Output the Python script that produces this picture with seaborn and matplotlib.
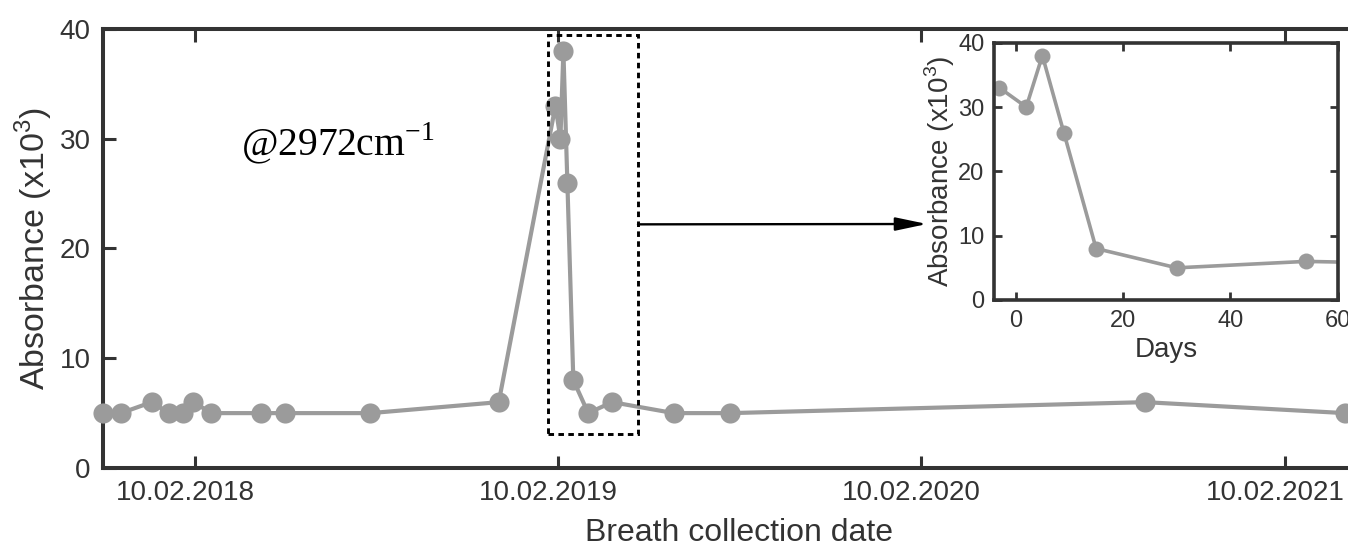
import pandas as pd
import seaborn as sns
import matplotlib.pyplot as plt
import matplotlib.dates as mdates
from matplotlib.patches import Rectangle
from matplotlib.transforms import ScaledTranslation

sns.set_style("ticks")
plt.rcParams['font.family'] = ['Liberation Sans', 'DejaVu Sans']

# breath samples
dates = ["2017-11-09", "2017-11-27", "2017-12-28", "2018-01-14", "2018-01-28",
         "2018-02-08", "2018-02-26", "2018-04-17", "2018-05-11", "2018-08-05",
         "2018-12-12", "2019-02-07", "2019-02-12", "2019-02-15", "2019-02-19",
         "2019-02-25", "2019-03-12", "2019-04-05", "2019-06-06", "2019-08-02",
         "2020-09-22", "2021-04-11"]
absorbance = [5, 5, 6, 5, 5, 6, 5, 5, 5, 5, 6, 33, 30, 38, 26, 8, 5, 6, 5, 5, 6, 5]

onset = "2019-02-10"
year_ticks = ["2018-02-10", "2019-02-10", "2020-02-10", "2021-02-10"]
y_ticks = [0, 10, 20, 30, 40]
day_ticks = [0, 20, 40, 60]

df = pd.DataFrame({"date": pd.to_datetime(dates), "absorbance": absorbance})
df["days"] = (df["date"] - pd.Timestamp(onset)).dt.days

grey = '#9b9b9b'
dark = '#333333'

fig = plt.figure(figsize=(13.48, 5.45), dpi=100)

# main panel (right side runs past the edge like the original)
ax = fig.add_axes([0.0764, 0.1413, 0.9435, 0.8055])
sns.lineplot(data=df, x="date", y="absorbance", ax=ax, color=grey, lw=3,
             marker='o', markersize=14.5, markeredgewidth=0, estimator=None,
             clip_on=False, zorder=5)
ax.set_xlim(pd.Timestamp("2017-11-09"), pd.Timestamp("2021-05-11"))
ax.set_ylim(0, 40)
ax.set_xticks(pd.to_datetime(year_ticks))
ax.xaxis.set_major_formatter(mdates.DateFormatter('%d.%m.%Y'))
ax.set_yticks(y_ticks)
ax.tick_params(direction='in', length=9, width=2.2, colors=dark, labelsize=20,
               top=True, right=True, pad=9)
# date labels sit a little left of their ticks in the original
shift = ScaledTranslation(-10 / 100, 0, fig.dpi_scale_trans)
for lab in ax.get_xticklabels():
    lab.set_transform(lab.get_transform() + shift)
for s in ax.spines.values():
    s.set_linewidth(2.9)
    s.set_color(dark)
ax.set_xlabel("Breath collection date", fontsize=23, color=dark, labelpad=8)
ax.set_ylabel(r"Absorbance (x10$^{\mathregular{3}}$)", fontsize=24.5, color=dark, labelpad=3)

ax.text(0.1085, 0.712, r"@2972cm$^{\mathregular{-1}}$", transform=ax.transAxes,
        family='Liberation Serif', fontsize=28.5, color='black', va='baseline')

# dashed box around the peak + arrow to the zoom
x0 = mdates.date2num(pd.Timestamp("2019-01-31"))
ax.add_patch(Rectangle((x0, 3.1), 90, 36.35, fill=False, ec='black', lw=2.1,
                       ls=(0, (1.9, 1.5)), zorder=6, clip_on=False))
ax.annotate("", xy=(927 / 1348, 1 - 224 / 545), xycoords='figure fraction',
            xytext=(x0 + 90, 22.2), textcoords='data',
            arrowprops=dict(arrowstyle='-|>,head_length=0.95,head_width=0.2',
                            color='black', lw=1.7, mutation_scale=20,
                            shrinkA=0, shrinkB=0))

# inset in days since onset
ins = fig.add_axes([994 / 1348, 245 / 545, 344 / 1348, 257.3 / 545])
ins.set_facecolor('white')
sns.lineplot(data=df, x="days", y="absorbance", ax=ins, color=grey, lw=2.6,
             marker='o', markersize=11.5, markeredgewidth=0, estimator=None)
ins.set_xlim(-4, 60)
ins.set_ylim(0, 40)
ins.set_xticks(day_ticks)
ins.set_yticks(y_ticks)
ins.tick_params(direction='in', length=6, width=2, colors=dark, labelsize=17,
                top=True, right=True, pad=7)
for s in ins.spines.values():
    s.set_linewidth(2.6)
    s.set_color(dark)
ins.set_xlabel("Days", fontsize=20, color=dark, labelpad=4)
ins.set_ylabel(r"Absorbance (x10$^{\mathregular{3}}$)", fontsize=20, color=dark, labelpad=1)

fig.savefig('out.png', dpi=100)
